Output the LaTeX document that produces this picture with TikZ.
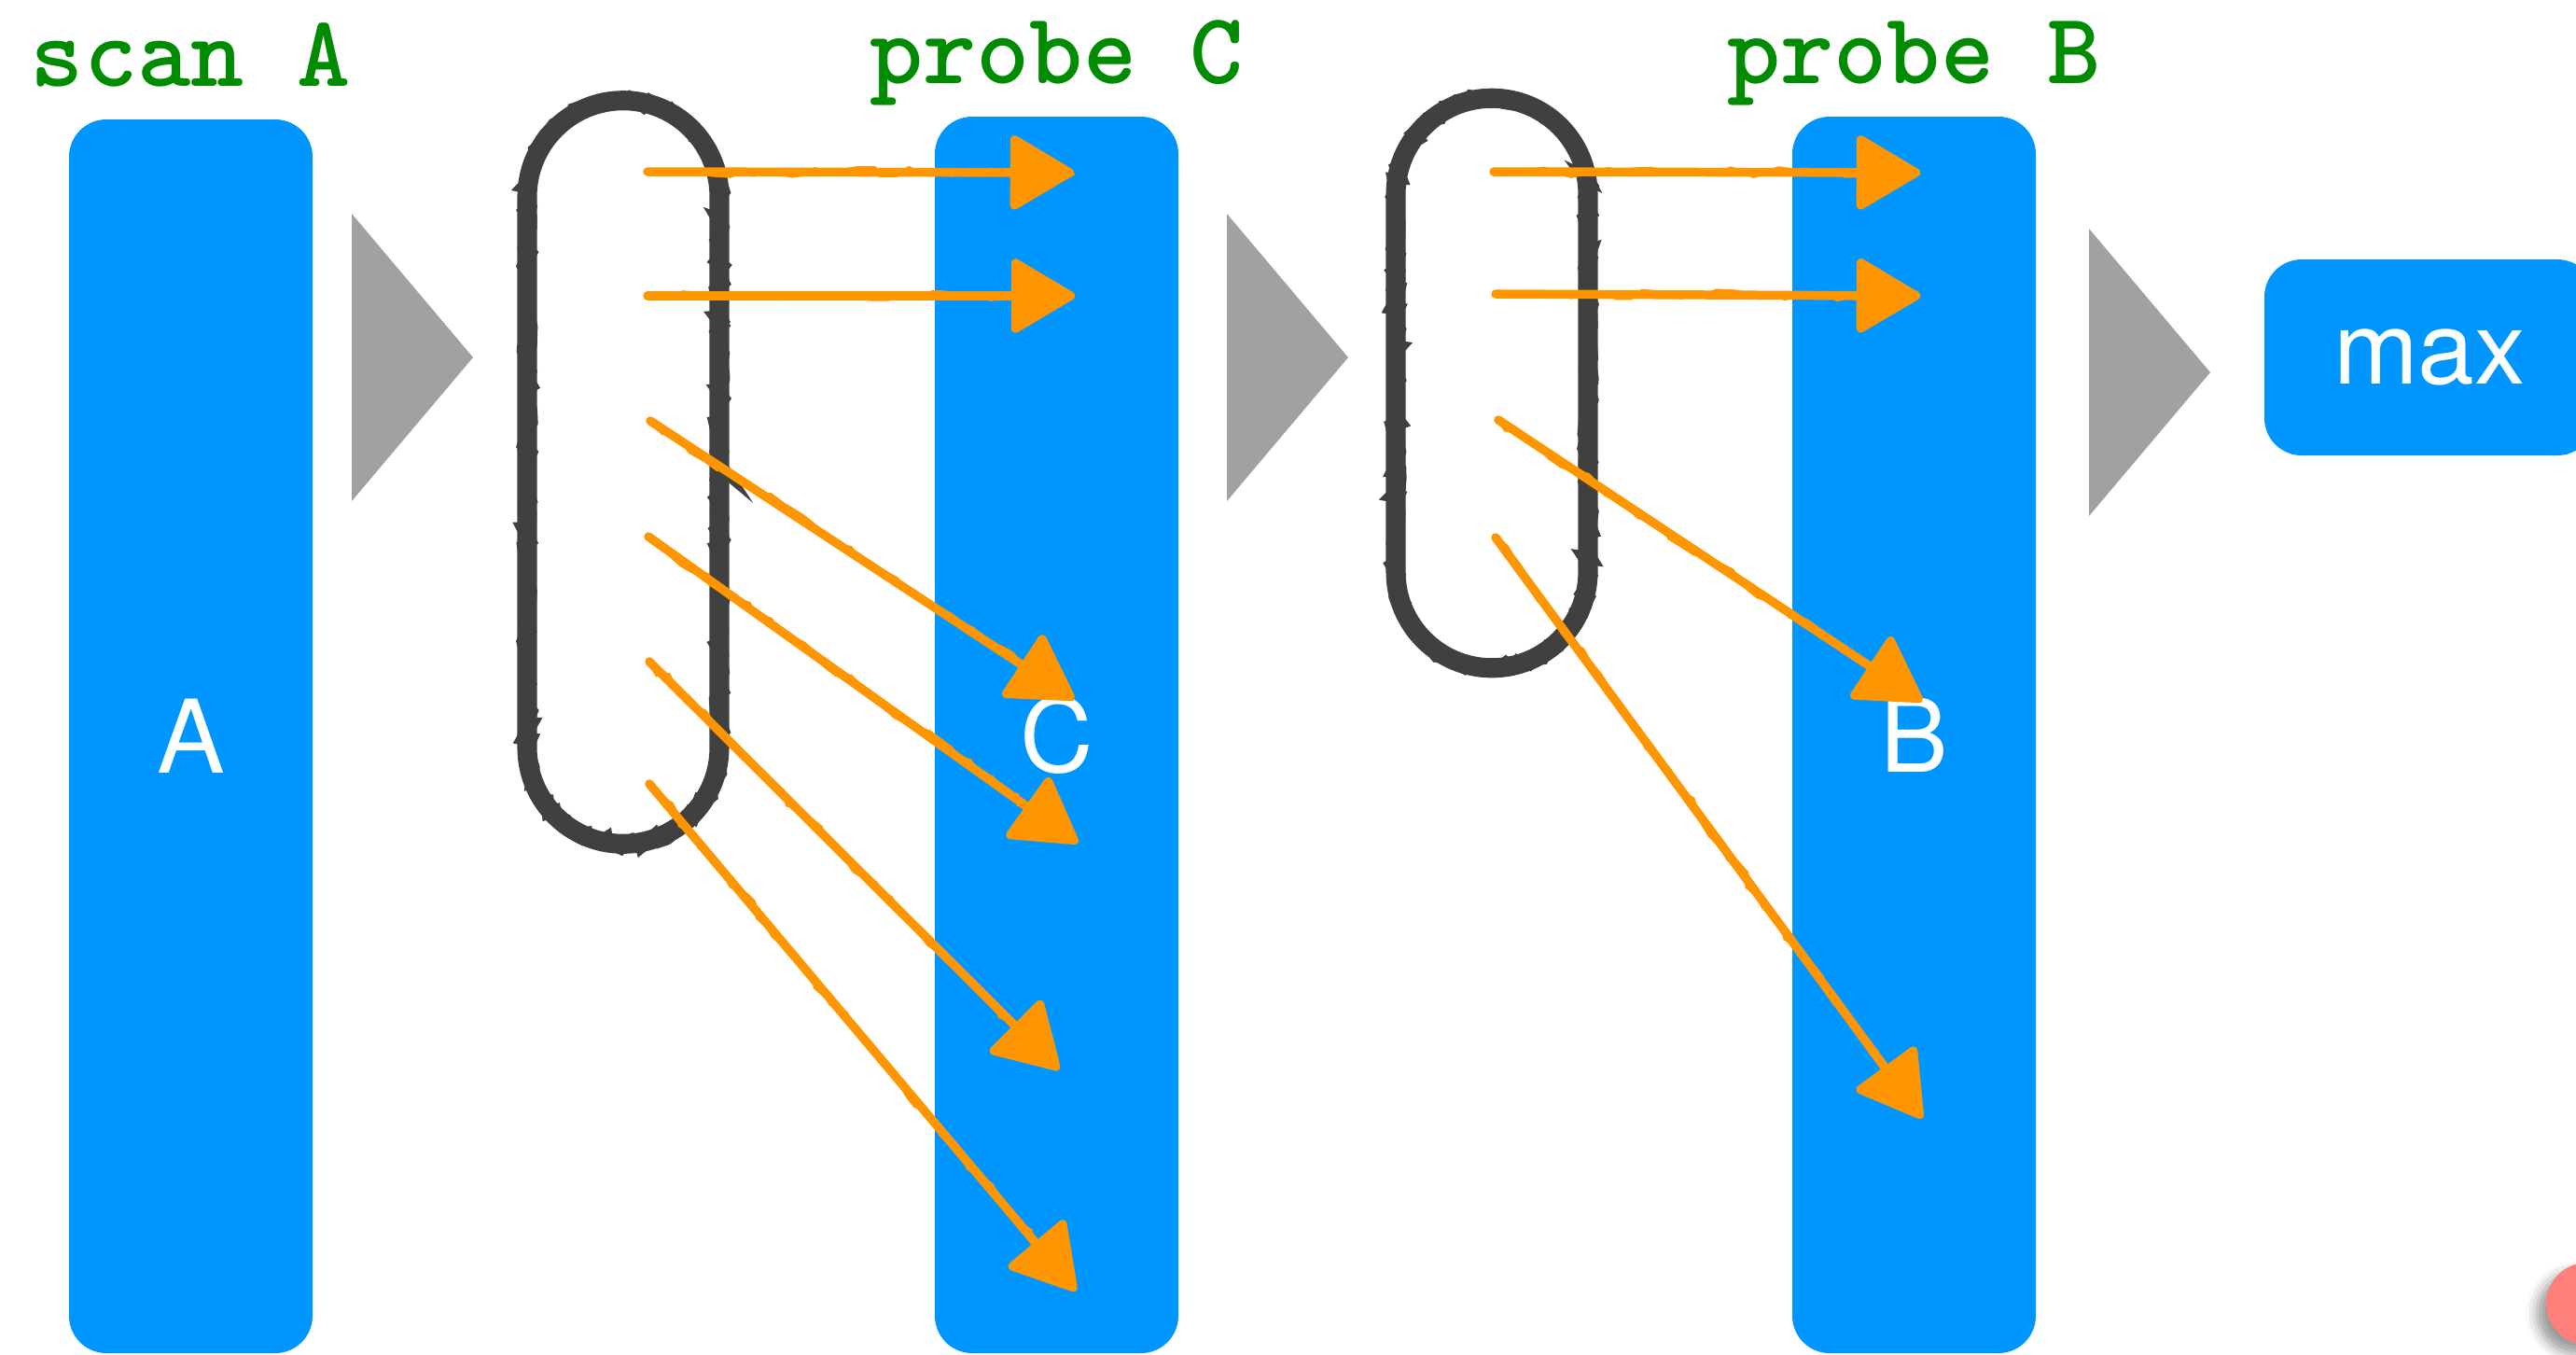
\documentclass[tikz,border=0pt]{standalone}
\usepackage{fontspec}
\setsansfont{TeX Gyre Heros}
\usetikzlibrary{arrows.meta,positioning,shapes.misc,decorations.pathmorphing,shadows.blur}

\definecolor{tblue}{RGB}{0,150,255}
\definecolor{tgreen}{RGB}{0,140,0}
\definecolor{tgray}{RGB}{161,161,161}
\definecolor{tdark}{RGB}{64,64,64}
\definecolor{torange}{RGB}{255,150,0}
\definecolor{tpink}{RGB}{255,127,122}

\tikzset{
  stage/.style={fill=tblue,rounded corners=0.4cm,minimum width=2.61cm,inner sep=0pt,
    text=white,font=\sffamily\fontsize{31}{37}\selectfont},
  heading/.style={text=tgreen,inner sep=0pt,font=\ttfamily\bfseries\fontsize{31}{37}\selectfont},
  sketchloop/.style={rounded rectangle,rotate=90,draw=tdark,line width=6pt,
    postaction={draw=tdark,line width=4pt,decorate,decoration={random steps,segment length=2pt,amplitude=1.3pt}}},
  pick/.style={draw=torange,line width=2.7pt,line cap=round,
    -{Triangle[length=0.73cm,width=0.84cm,round]},
    preaction={-,draw=torange,line width=1.2pt,decorate,decoration={random steps,segment length=4pt,amplitude=1.3pt}}},
  cursor/.style={circle,fill=tpink,minimum size=0.88cm,inner sep=0pt,
    blur shadow={shadow xshift=-0.1cm,shadow yshift=-0.1cm,shadow blur radius=0.12cm}}
}

\begin{document}
\begin{tikzpicture}
  \useasboundingbox (0,0) rectangle (27.61,-14.51);

  % the three columns and the result
  \node[stage,minimum height=13.22cm] (A) at (2.045,-7.89) {A};
  \node[stage,minimum height=13.25cm] (C) at (11.325,-7.875) {C};
  \node[stage,minimum height=13.25cm] (B) at (20.515,-7.875) {B};
  \node[stage,minimum width=3.54cm,minimum height=2.1cm] (max) at (26.04,-3.83) {max};

  \node[heading,above=0.35cm of A,anchor=base] (hA) {scan A};
  \node[heading,above=0.35cm of C,anchor=base] (hC) {probe C};
  \node[heading,above=0.35cm of B,anchor=base] (hB) {probe B};

  % grey flow marks between the stages
  \foreach \x/\y in {3.77/-3.83,13.15/-3.83,22.39/-3.99}
    \fill[tgray] (\x,\y+1.54) -- ++(1.3,-1.54) -- ++(-1.3,-1.54) -- cycle;

  % batches of keys
  \node[sketchloop,minimum width=8.2cm,minimum height=2.06cm] (L1) at (6.68,-5.06) {};
  \node[sketchloop,minimum width=6.34cm,minimum height=2.06cm] (L2) at (15.99,-4.105) {};

  % lookups into C
  \foreach \n/\sx/\sy/\tx/\ty in {1/6.94/-1.84/11.51/-1.85,2/6.94/-3.17/11.52/-3.17,
      3/6.97/-4.51/11.51/-7.49,4/6.95/-5.75/11.55/-9.03,
      5/6.96/-7.09/11.35/-11.46,6/6.96/-8.40/11.53/-13.83}{
    \coordinate (s\n) at (\sx,\sy);
    \coordinate (t\n) at (\tx,\ty);
    \draw[pick] (s\n) -- (t\n);
  }

  % lookups into B
  \foreach \n/\sx/\sy/\tx/\ty in {1/16.01/-1.84/20.58/-1.85,2/16.03/-3.15/20.58/-3.17,
      3/16.06/-4.50/20.60/-7.51,4/16.03/-5.76/20.60/-11.98}{
    \coordinate (u\n) at (\sx,\sy);
    \coordinate (v\n) at (\tx,\ty);
    \draw[pick] (u\n) -- (v\n);
  }

  \node[cursor] (dot) at (27.73,-13.97) {};
\end{tikzpicture}
\end{document}
